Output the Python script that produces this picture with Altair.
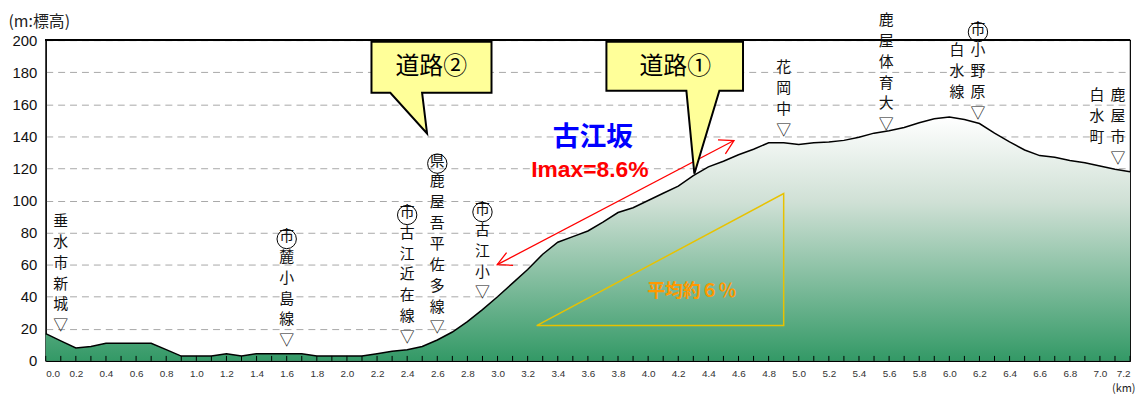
import altair as alt
import pandas as pd

# ---------------- data ----------------
km = [0.0, 0.1, 0.2, 0.3, 0.4, 0.5, 0.6, 0.7, 0.8, 0.9,
      1.0, 1.1, 1.2, 1.3, 1.4, 1.5, 1.6, 1.7, 1.8, 1.9,
      2.0, 2.1, 2.2, 2.3, 2.4, 2.5, 2.6, 2.7, 2.8, 2.9,
      3.0, 3.1, 3.2, 3.3, 3.4, 3.5, 3.6, 3.7, 3.8, 3.9,
      4.0, 4.1, 4.2, 4.3, 4.4, 4.5, 4.6, 4.7, 4.8, 4.9,
      5.0, 5.1, 5.2, 5.3, 5.4, 5.5, 5.6, 5.7, 5.8, 5.9,
      6.0, 6.1, 6.2, 6.3, 6.4, 6.5, 6.6, 6.7, 6.8, 6.9,
      7.0, 7.1, 7.2]
elev = [17, 12.5, 8, 9, 11, 11, 11, 11, 7, 3,
        3, 3, 4.5, 3, 4.5, 4.5, 4.5, 4.5, 3, 3,
        3, 3, 4.5, 6, 7, 9, 13, 18, 24.5, 32,
        40, 48.5, 57, 66.5, 74, 77.5, 81, 86.5, 92.5, 95.5,
        100, 104.5, 109, 115.5, 121, 124.5, 128.5, 132, 136, 136,
        135, 136, 136.5, 137.5, 139.5, 142, 143.5, 145.5, 148.5, 151,
        152, 150.5, 148, 142, 136.5, 131.5, 128, 127, 125, 123.5,
        121.5, 119.5, 118]

x_tick_labels = [0.0, 0.2, 0.4, 0.6, 0.8, 1.0, 1.2, 1.4, 1.6, 1.8, 2.0, 2.2,
                 2.4, 2.6, 2.8, 3.0, 3.2, 3.4, 3.6, 3.8, 4.0, 4.2, 4.4, 4.6,
                 4.8, 5.0, 5.2, 5.4, 5.6, 5.8, 6.0, 6.2, 6.4, 6.6, 6.8, 7.0, 7.2]
y_tick_labels = [0, 20, 40, 60, 80, 100, 120, 140, 160, 180, 200]

# station labels (vertical text)
st_x = [0.1, 1.6, 2.4, 2.6, 2.9, 4.9, 5.58, 6.19, 6.05, 7.12, 6.98]
st_top = [85.3, 76, 91, 123, 92.8, 181.4, 210.7, 205, 192, 163.8, 163.8]
st_text = ["垂水市新城▽", "市麓小島線▽", "市古江近在線▽", "県鹿屋吾平佐多線▽", "市古江小▽",
           "花岡中▽", "鹿屋体育大▽", "市小野原▽", "白水線", "鹿屋市▽", "白水町"]
st_badge = [False, True, True, True, True, False, False, True, False, False, False]

# callout balloons (polygon vertices)
callout_id = ["c2"] * 7 + ["c1"] * 7
callout_x = [2.163, 2.96, 2.96, 2.499, 2.532, 2.288, 2.163,
             3.723, 4.63, 4.63, 4.473, 4.307, 4.254, 3.723]
callout_y = [199, 199, 167.2, 167.2, 141.8, 167.2, 167.2,
             199, 199, 168.4, 168.4, 116.7, 168.4, 168.4]
callout_label = ["道路②", "道路①"]
callout_lx = [2.56, 4.18]
callout_ly = [183.5, 183.5]

# red double arrow
arrow_id = ["main", "main", "low", "low", "low", "up", "up", "up"]
arrow_x = [2.998, 4.57, 3.06, 2.998, 3.103, 4.464, 4.57, 4.513]
arrow_y = [60, 137.4, 67.5, 60, 59.6, 137.8, 137.4, 129.1]

# average-gradient triangle
tri_x = [3.26, 4.9, 4.9]
tri_y = [22, 104.3, 22]

# annotations
ann_text = ["古江坂", "Imax=8.6%", "平均約６％"]
ann_x = [3.633, 3.613, 4.29]
ann_y = [138.7, 118.9, 42.7]
ann_color = ["#0000ff", "#ff0000", "#ff9900"]
ann_size = [27, 23, 18]
ann_font = ["Noto Sans CJK JP", "Liberation Sans", "Noto Sans CJK JP"]

# ---------------- tables ----------------
prof = pd.DataFrame({"km": km, "m": elev})
stations = pd.DataFrame({"km": st_x, "m": st_top,
                         "txt": ["\n".join(list(s)) for s in st_text],
                         "badge": st_badge})
badges = stations[stations["badge"]]
callouts = pd.DataFrame({"id": callout_id, "km": callout_x, "m": callout_y,
                         "i": list(range(len(callout_x)))})
callout_txt = pd.DataFrame({"km": callout_lx, "m": callout_ly, "t": callout_label})
arrows = pd.DataFrame({"id": arrow_id, "km": arrow_x, "m": arrow_y,
                       "i": list(range(len(arrow_x)))})
tri = pd.DataFrame({"km": tri_x, "m": tri_y, "i": [0, 1, 2]})

xs = alt.Scale(domain=[0, 7.2], nice=False, zero=False)
ys = alt.Scale(domain=[0, 200], nice=False)

x_axis = alt.Axis(
    values=x_tick_labels, format=".1f", ticks=False, grid=False,
    labelFontSize=10, labelColor="#333333", labelPadding=8, labelFont="Liberation Sans",
    domainColor="black", domainWidth=1.2,
    title="(km)", titleX=1097, titleY=33, titleAlign="right", titleBaseline="bottom",
    titleFontSize=11, titleFontWeight="normal", titleColor="#222222",
    titleFont="Noto Sans CJK JP")
y_axis = alt.Axis(
    values=y_tick_labels, ticks=False, grid=True, gridDash=[7, 5], gridColor="#a8a8a8",
    labelFontSize=15, labelPadding=9, labelColor="#111111", labelFont="Liberation Sans",
    domainColor="black", domainWidth=1.2,
    title="(m:標高)", titleAngle=0, titleX=-38, titleY=-19, titleAlign="left",
    titleBaseline="middle", titleFontSize=16, titleFontWeight="normal",
    titleColor="#222222", titleFont="Noto Sans CJK JP")
X = alt.X("km:Q", scale=xs, axis=x_axis)
Y = alt.Y("m:Q", scale=ys, axis=y_axis)

area = alt.Chart(prof).mark_area(
    color=alt.Gradient(gradient="linear",
                       stops=[alt.GradientStop(color="#ffffff", offset=0),
                              alt.GradientStop(color="#cfe0d5", offset=0.35),
                              alt.GradientStop(color="#339966", offset=1)],
                       x1=0, x2=0, y1=0, y2=1)
).encode(x=X, y=Y)

line = alt.Chart(prof).mark_line(color="black", strokeWidth=1.5).encode(x=X, y=Y)

ticks = alt.Chart(prof).mark_rule(color="black", strokeWidth=1).encode(
    x=X, y=alt.value(323), y2=alt.value(318))

top_border = alt.Chart(prof).mark_rule(color="black", strokeWidth=1.5).encode(
    x=alt.value(0), x2=alt.value(1092), y=alt.value(0))

tri_layer = alt.Chart(tri).mark_line(color="#e8c200", strokeWidth=1.5,
                                     interpolate="linear-closed").encode(
    x=X, y=Y, order="i:Q")

arrow_layer = alt.Chart(arrows).mark_line(color="#ff0000", strokeWidth=1.3).encode(
    x=X, y=Y, detail="id:N", order="i:Q")

callout_layer = alt.Chart(callouts).mark_line(
    fill="#ffff99", stroke="black", strokeWidth=2, interpolate="linear-closed",
    strokeJoin="miter").encode(x=X, y=Y, detail="id:N", order="i:Q")

callout_text = alt.Chart(callout_txt).mark_text(
    fontSize=24, font="Noto Sans CJK JP", color="black", baseline="middle").encode(
    x=X, y=Y, text="t:N")

station_text = alt.Chart(stations).mark_text(
    fontSize=15, font="Noto Sans CJK JP", color="#111111", lineBreak="\n",
    lineHeight=21, baseline="top", dy=-10, align="center").encode(
    x=X, y=Y, text="txt:N")

badge_layer = alt.Chart(badges).mark_point(
    shape="circle", size=380, filled=False, color="black", strokeWidth=1, opacity=1).encode(
    x=X, y=Y)

ann_layers = []
for t, xx, yy, c, s, f in zip(ann_text, ann_x, ann_y, ann_color, ann_size, ann_font):
    df = pd.DataFrame({"t": [t], "km": [xx], "m": [yy]})
    ann_layers.append(alt.Chart(df).mark_text(
        fontSize=s, fontWeight="bold", font=f, color=c,
        baseline="middle").encode(x=X, y=Y, text="t:N"))

chart = alt.layer(area, line, ticks, top_border, tri_layer, arrow_layer, callout_layer,
                  callout_text, station_text, badge_layer, *ann_layers).properties(
    width=1092, height=323,
    autosize=alt.AutoSizeParams(type="none"),
    padding={"left": 38, "top": 31, "right": 8, "bottom": 33},
).configure_view(stroke="black", strokeWidth=1.2)

chart.save("out.html", embed_options={"renderer": "svg", "actions": False})
